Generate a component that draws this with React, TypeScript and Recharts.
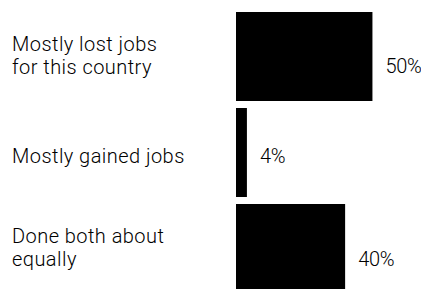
import React from "react";
import { BarChart, Bar, XAxis, YAxis, LabelList } from "recharts";

const categories = [
  "Mostly lost jobs for this country",
  "Mostly gained jobs",
  "Done both about equally",
];
const categoryLines = [
  ["Mostly lost jobs", "for this country"],
  ["Mostly gained jobs"],
  ["Done both about", "equally"],
];
const values = [50, 4, 40];
const valueLabels = ["50%", "4%", "40%"];

// styling: vertical offset of value labels (baseline relative to bar centre)
const labelDy = [16, 10, 17];

const data = categories.map((c, i) => ({ name: c, value: values[i], label: valueLabels[i] }));

const FONT = "Roboto, 'Liberation Sans', Arial, sans-serif";

const CategoryTick = (props: any) => {
  const { y, payload } = props;
  const idx = categories.indexOf(payload.value);
  const lines = idx >= 0 ? categoryLines[idx] : [String(payload.value)];
  const first = y + 11 - (lines.length - 1) * 16.5;
  return (
    <text
      x={12}
      y={first}
      textAnchor="start"
      fontFamily={FONT}
      fontWeight={300}
      fontSize={20}
      letterSpacing={0.45}
      fill="#000"
    >
      {lines.map((l, i) => (
        <tspan key={i} x={12} y={first + i * 23}>
          {l}
        </tspan>
      ))}
    </text>
  );
};

const ValueLabel = (props: any) => {
  const { x, y, width, height, index } = props;
  return (
    <text
      x={x + width + 13}
      y={y + height / 2 + labelDy[index]}
      textAnchor="start"
      fontFamily={FONT}
      fontWeight={300}
      fontSize={20}
      letterSpacing={-0.3}
      fill="#000"
    >
      {valueLabels[index]}
    </text>
  );
};

export default function App() {
  return (
    <div style={{ margin: "-8px 0 0 -8px", width: 429, height: 300, background: "#fff" }}>
      <BarChart
        width={429}
        height={300}
        data={data}
        layout="vertical"
        margin={{ top: 8, right: 2, bottom: 4, left: 0 }}
        style={{ overflow: "visible" }}
      >
        <XAxis type="number" domain={[0, 70]} hide />
        <YAxis
          type="category"
          dataKey="name"
          width={236}
          axisLine={false}
          tickLine={false}
          tick={<CategoryTick />}
          interval={0}
        />
        <Bar dataKey="value" fill="#000" barSize={89} isAnimationActive={false}>
          <LabelList dataKey="value" content={<ValueLabel />} />
        </Bar>
      </BarChart>
    </div>
  );
}
